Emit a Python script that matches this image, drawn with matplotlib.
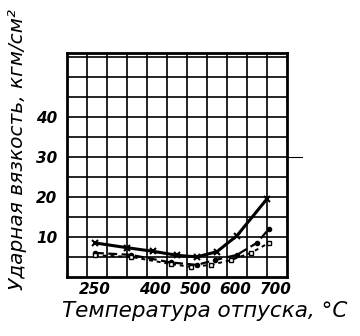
import matplotlib
matplotlib.use("Agg")
import matplotlib.pyplot as plt
from matplotlib.transforms import ScaledTranslation
import numpy as np

# temperatures (deg C) and impact toughness (kgm/cm2)
temp_a = [270, 350, 415, 475, 525, 575, 625, 700]
val_a = [8.5, 7.3, 6.4, 5.4, 5.0, 6.3, 10.3, 19.5]

temp_b = [270, 360, 460, 525, 570, 625, 675, 705]
val_b = [6.0, 5.5, 3.6, 3.0, 4.2, 5.5, 8.5, 12.0]

temp_c = [270, 360, 460, 510, 560, 610, 660, 705]
val_c = [5.4, 5.0, 3.2, 2.5, 3.0, 4.2, 6.0, 8.5]

x_ticks = [250, 400, 500, 600, 700]
y_ticks = [10, 20, 30, 40]

fig = plt.figure(figsize=(3.6, 3.36), dpi=100)
ax = fig.add_axes([0.186, 0.176, 0.611, 0.666])

ax.set_xlim(200, 750)
ax.set_ylim(0, 56)
ax.set_xticks(np.arange(250, 750, 50), minor=True)
ax.set_yticks(np.arange(5, 56, 5), minor=True)
ax.grid(which="minor", color="black", linewidth=1.2)
ax.set_xticks(x_ticks)
ax.set_yticks(y_ticks)
ax.grid(which="major", color="black", linewidth=1.2)
ax.tick_params(which="both", length=0)
ax.tick_params(axis="x", pad=4)
ax.tick_params(axis="y", pad=7)
for spine in ax.spines.values():
    spine.set_linewidth(2)

tick_font = dict(fontsize=11, fontstyle="italic", fontweight="bold")
ax.set_xticklabels([str(t) for t in x_ticks], **tick_font)
ax.set_yticklabels([str(t) for t in y_ticks], **tick_font)
shift = ScaledTranslation(6 / 72, 0, fig.dpi_scale_trans)
for lab in ax.get_xticklabels():
    lab.set_transform(lab.get_transform() + shift)

ax.plot(temp_a, val_a, color="black", linewidth=2.2, marker="x",
        markersize=5, markeredgewidth=1.5)
ax.plot(temp_b, val_b, color="black", linewidth=1.6, linestyle=(0, (4, 2)),
        marker="o", markersize=3)
ax.plot(temp_c, val_c, color="black", linewidth=1.4, linestyle=(0, (2, 2)),
        marker="s", markersize=3, markerfacecolor="white")

# stray scan line at the 30 level
ax.plot([750, 788], [30, 30], color="black", linewidth=0.8, clip_on=False)

fig.text(0.569, 0.075, "Температура отпуска, °С", ha="center", va="center",
         fontsize=15.5, fontstyle="italic")
fig.text(0.05, 0.554, "Ударная вязкость, кгм/см²", ha="center", va="center",
         rotation=90, fontsize=14.5, fontstyle="italic")

fig.savefig("out.png", dpi=100, facecolor="white")
